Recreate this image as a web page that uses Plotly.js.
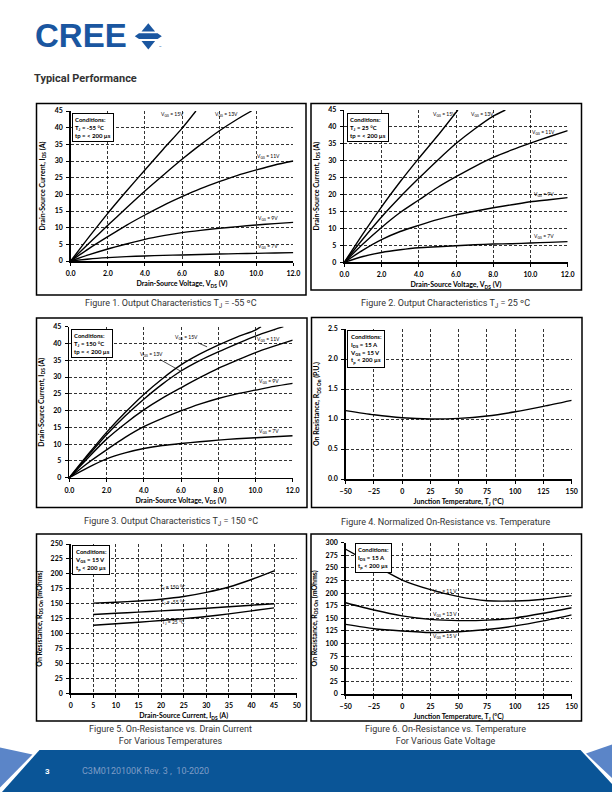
<!DOCTYPE html>
<html>
<head>
<meta charset="utf-8">
<script src="https://cdn.plot.ly/plotly-3.0.1.min.js"></script>
<style>
html,body{margin:0;padding:0;background:#fff;}
#chart{width:612px;height:792px;}
</style>
</head>
<body>
<div id="chart"></div>
<script>
// ---------- DATA ----------
// Figure 1: Tj = -55 C
const f1_vgs15_x = [0,1,2,3,4,5,6,6.75];
const f1_vgs15_y = [0,7.3,14.3,20.9,27.3,33.6,39.8,45];
const f1_vgs13_x = [0,1,2,3,4,5,6,7,8,9,9.75];
const f1_vgs13_y = [0,5.4,10.7,15.9,21,25.8,30.5,34.9,39,42.6,45];
const f1_vds = [0,1,2,3,4,5,6,7,8,9,10,11,12];
const f1_vgs11_y = [0,3.8,7.3,10.7,13.8,16.7,19.3,21.7,23.8,25.7,27.3,28.8,30];
const f1_vgs9_y  = [0,1.9,3.6,5.1,6.5,7.6,8.5,9.2,9.8,10.3,10.8,11.2,11.6];
const f1_vgs7_y  = [0,0.6,1.0,1.3,1.5,1.7,1.8,1.95,2.1,2.2,2.3,2.4,2.5];

// Figure 2: Tj = 25 C
const f2_vgs15_x = [0,1,2,3,4,5,6.1];
const f2_vgs15_y = [0,8.4,16.4,23.8,30.7,37.3,45];
const f2_vgs13_x = [0,1,2,3,4,5,6,7,8,8.65];
const f2_vgs13_y = [0,6.9,13.4,19.3,24.8,30.1,35.1,39.4,43.2,45];
const f2_vds = [0,1,2,3,4,5,6,7,8,9,10,11,12];
const f2_vgs11_y = [0,5.4,10.3,14.7,18.4,22.1,25.3,28.3,31,33.2,35.2,37.1,38.9];
const f2_vgs9_y  = [0,3.6,6.7,9.1,10.9,12.6,14,15.1,16.1,17,17.9,18.5,19.1];
const f2_vgs7_y  = [0,1.7,2.9,3.7,4.3,4.6,4.9,5.2,5.4,5.5,5.7,5.9,6.1];

// Figure 3: Tj = 150 C
const f3_vgs15_x = [0,1,2,3,4,5,6,7,8,9,10,10.3];
const f3_vgs15_y = [0,6.9,13.5,19.4,24.8,29.5,33.6,36.8,39.5,41.9,44,45];
const f3_vgs13_x = [0,1,2,3,4,5,6,7,8,9,10,11,11.5];
const f3_vgs13_y = [0,6.5,12.8,18.4,23.4,27.9,31.8,34.9,37.5,39.9,42.2,44.1,45];
const f3_vds = [0,1,2,3,4,5,6,7,8,9,10,11,12];
const f3_vgs11_y = [0,5.9,11.5,16.1,20.2,23.7,26.8,29.8,32.6,35,37.3,39.2,41];
const f3_vgs9_y  = [0,4.4,8.3,12,15.2,17.7,19.9,21.9,23.6,25,26.1,27.2,28.1];
const f3_vgs7_y  = [0,3,5.6,7.4,8.7,9.6,10.2,10.7,11.2,11.6,11.9,12.2,12.5];

// Figure 4: normalized on-resistance
const f4_tj  = [-50,-25,0,25,50,75,100,125,150];
const f4_rds = [1.14,1.07,1.02,1.0,1.01,1.05,1.12,1.21,1.31];

// Figure 5: on-resistance vs drain current
const f5_ids   = [5,10,15,20,25,30,35,40,45];
const f5_tj150 = [151,152.5,154.5,157.5,162,169,178,190.5,205];
const f5_tjm55 = [132,134,136,138,140,142.5,145,147.5,150];
const f5_tj25  = [114,116.5,119,122,125,128.5,133,138,143];

// Figure 6: on-resistance vs temperature
const f6_tj    = [-50,-25,0,25,50,75,100,125,150];
const f6_vgs11 = [287,256,226,207,193,185,184.5,188,195];
const f6_vgs13 = [181,166.5,155,148,145.5,146.5,151,160,171];
const f6_vgs15 = [138,129.5,125,122,123.5,128,135,145,157];

// ---------- LAYOUT HELPERS ----------
const W = 612, H = 792;
const px = v => v / W;
const py = v => 1 - v / H;
const dX = (a, b) => [a / W, b / W];
const dY = (t, b) => [1 - b / H, 1 - t / H];
const CF = 'Lato, "Open Sans", sans-serif';
const CAPF = '"Liberation Sans Narrow", Roboto, sans-serif';

function axis(domain, anchor, range, dtick, fmt, title, standoff) {
  return {
    domain: domain, anchor: anchor, range: range, dtick: dtick, tick0: range[0],
    tickformat: fmt, showline: true, linecolor: 'black', linewidth: 1.5,
    ticks: 'outside', ticklen: 3, tickwidth: 1, tickcolor: 'black', ticklabelstandoff: 2,
    showgrid: true, gridcolor: 'black', gridwidth: 0.8, griddash: '3px,2px',
    zeroline: false, mirror: false, fixedrange: true,
    tickfont: {family: CF, size: 7, color: 'black', weight: 700},
    title: {text: title, standoff: standoff, font: {family: CF, size: 7, color: 'black', weight: 700}}
  };
}

const LN = {color: 'black', width: 1.4, shape: 'spline', smoothing: 0.7};
function tr(x, y, n) {
  return {x: x, y: y, xaxis: 'x' + (n > 1 ? n : ''), yaxis: 'y' + (n > 1 ? n : ''),
    mode: 'lines', line: LN, hoverinfo: 'skip', showlegend: false};
}

const data = [
  tr(f1_vgs15_x, f1_vgs15_y, 1), tr(f1_vgs13_x, f1_vgs13_y, 1), tr(f1_vds, f1_vgs11_y, 1), tr(f1_vds, f1_vgs9_y, 1), tr(f1_vds, f1_vgs7_y, 1),
  tr(f2_vgs15_x, f2_vgs15_y, 2), tr(f2_vgs13_x, f2_vgs13_y, 2), tr(f2_vds, f2_vgs11_y, 2), tr(f2_vds, f2_vgs9_y, 2), tr(f2_vds, f2_vgs7_y, 2),
  tr(f3_vgs15_x, f3_vgs15_y, 3), tr(f3_vgs13_x, f3_vgs13_y, 3), tr(f3_vds, f3_vgs11_y, 3), tr(f3_vds, f3_vgs9_y, 3), tr(f3_vds, f3_vgs7_y, 3),
  tr(f4_tj, f4_rds, 4),
  tr(f5_ids, f5_tj150, 5), tr(f5_ids, f5_tjm55, 5), tr(f5_ids, f5_tj25, 5),
  tr(f6_tj, f6_vgs11, 6), tr(f6_tj, f6_vgs13, 6), tr(f6_tj, f6_vgs15, 6)
];

const vdsT = 'Drain-Source Voltage, V<sub>DS</sub> (V)';
const idsT = 'Drain-Source Current, I<sub>DS</sub> (A)';
const tjT = 'Junction Temperature, T<sub>J</sub> (°C)';
const ronT = 'On Resistance, R<sub>DS On</sub> (mOhms)';

const layout = {
  width: W, height: H, margin: {l: 0, r: 0, t: 0, b: 0},
  paper_bgcolor: 'white', plot_bgcolor: 'white', showlegend: false,
  xaxis:  axis(dX(70.7, 293.3), 'y',  [0, 12], 2, '.1f', vdsT, 5),
  yaxis:  axis(dY(111, 261),    'x',  [0, 45], 5, 'd', idsT, 8),
  xaxis2: axis(dX(344.3, 567.7), 'y2', [0, 12], 2, '.1f', vdsT, 5),
  yaxis2: axis(dY(110, 262.3),   'x2', [0, 45], 5, 'd', idsT, 8),
  xaxis3: axis(dX(69.3, 292.7), 'y3', [0, 12], 2, '.1f', vdsT, 5),
  yaxis3: axis(dY(326.7, 477.7), 'x3', [0, 45], 5, 'd', idsT, 8),
  xaxis4: axis(dX(345.7, 571.7), 'y4', [-50, 150], 25, 'd', tjT, 5),
  yaxis4: axis(dY(329, 479),     'x4', [0, 2.5], 0.5, '.1f', 'On Resistance, R<sub>DS On</sub> (P.U.)', 7),
  xaxis5: axis(dX(70.7, 296.7), 'y5', [0, 50], 5, 'd', idsT, 5),
  yaxis5: axis(dY(544, 693.3),  'x5', [0, 250], 25, 'd', ronT, 7),
  xaxis6: axis(dX(345.7, 571.7), 'y6', [-50, 150], 25, 'd', tjT, 5),
  yaxis6: axis(dY(542.7, 694),   'x6', [0, 300], 25, 'd', ronT, 7),
  shapes: [],
  annotations: []
};

// chart frames
const frames = [[36.5, 103.5, 306, 295], [311, 103.5, 581.5, 290], [36.5, 318, 307, 507.5],
                [311.5, 317.5, 582, 507.5], [36.5, 534, 306.5, 721], [311, 534, 581.5, 721]];
frames.forEach(f => layout.shapes.push({type: 'rect', xref: 'paper', yref: 'paper',
  x0: px(f[0]), x1: px(f[2]), y0: py(f[3]), y1: py(f[1]), line: {color: 'black', width: 1.5}}));

function poly(pts) {
  return 'M' + pts.map(p => px(p[0]).toFixed(5) + ',' + py(p[1]).toFixed(5)).join(' L') + ' Z';
}
function pathShape(pts, color) {
  return {type: 'path', xref: 'paper', yref: 'paper', path: poly(pts), fillcolor: color, line: {width: 0}, layer: 'above'};
}
// footer
layout.shapes.push(pathShape([[39.5, 750], [580.5, 750], [612, 784], [612, 792], [2, 792]], '#0a5597'));
layout.shapes.push(pathShape([[0, 747.5], [32.5, 754.5], [0, 787.5]], '#5b85c8'));
layout.shapes.push(pathShape([[586, 753.5], [612, 744.5], [612, 778]], '#5b85c8'));
// logo symbol
const LOGO = '#1a56a0';
layout.shapes.push(pathShape([[141.5, 31.6], [148.3, 23.2], [155.1, 31.6]], LOGO));
layout.shapes.push(pathShape([[134.8, 36.2], [139, 33.3], [157.6, 33.3], [161.8, 36.2], [157.6, 39.1], [139, 39.1]], LOGO));
layout.shapes.push(pathShape([[141.5, 41], [155.1, 41], [148.3, 49.4]], LOGO));

const A = layout.annotations;
function txt(text, x, y, opts) {
  A.push(Object.assign({text: text, x: px(x), y: py(y), xref: 'paper', yref: 'paper', showarrow: false,
    xanchor: 'center', yanchor: 'middle'}, opts));
}
// header
txt('CREE', 33, 36, {xanchor: 'left', font: {family: '"Liberation Sans", Arial, sans-serif', size: 33, color: LOGO, weight: 900}});
txt('™', 157.5, 47.5, {xanchor: 'left', font: {family: 'Roboto', size: 4, color: LOGO}});
txt('Typical Performance', 32, 79, {xanchor: 'left', font: {family: 'Roboto, sans-serif', size: 11, color: '#333', weight: 700}});
// footer text
txt('3', 42.5, 771, {xanchor: 'left', font: {family: 'Roboto, sans-serif', size: 8, color: 'white', weight: 700}});
txt('C3M0120100K Rev. 3 ,  10-2020', 80, 771, {xanchor: 'left', font: {family: CAPF, size: 9, color: '#7d9cc6'}});
// captions
const capFont = {family: CAPF, size: 9, color: '#333'};
txt('Figure 1. Output Characteristics T<sub>J</sub> = -55 ºC', 171, 304, {font: capFont});
txt('Figure 2. Output Characteristics T<sub>J</sub> = 25 ºC', 445, 304, {font: capFont});
txt('Figure 3. Output Characteristics T<sub>J</sub> = 150 ºC', 171, 522, {font: capFont});
txt('Figure 4. Normalized On-Resistance vs. Temperature', 446, 522, {font: capFont});
txt('Figure 5. On-Resistance vs. Drain Current<br>For Various Temperatures', 170, 735, {font: capFont});
txt('Figure 6. On-Resistance vs. Temperature<br>For Various Gate Voltage', 445, 735, {font: capFont});

// condition boxes
function cond(text, x, y) {
  A.push({text: text, x: px(x), y: py(y), xref: 'paper', yref: 'paper', showarrow: false,
    xanchor: 'left', yanchor: 'top', align: 'left', bordercolor: 'black', borderwidth: 1, borderpad: 2,
    bgcolor: 'white', font: {family: CF, size: 6, color: 'black', weight: 700}});
}
cond('Conditions:<br>T<sub>J</sub> = -55 °C<br>tp = < 200 µs', 71.7, 112.7);
cond('Conditions:<br>T<sub>J</sub> = 25 °C<br>tp = < 200 µs', 346.5, 112.5);
cond('Conditions:<br>T<sub>J</sub> = 150 °C<br>tp = < 200 µs', 71, 329);
cond('Conditions:<br>I<sub>DS</sub> = 15 A<br>V<sub>GS</sub> = 15 V<br>t<sub>p</sub> < 200 µs', 347, 330);
cond('Conditions:<br>V<sub>GS</sub> = 15 V<br>t<sub>p</sub> < 200 µs', 72, 544.5);
cond('Conditions:<br>I<sub>DS</sub> = 15 A<br>t<sub>p</sub> < 200 µs', 355, 543);

// curve labels (data coordinates)
const lf = {family: CF, size: 5, color: 'black'};
function lab(text, x, y, n, extra) {
  const s = n > 1 ? n : '';
  A.push(Object.assign({text: text, x: x, y: y, xref: 'x' + s, yref: 'y' + s, showarrow: false, font: lf}, extra || {}));
}
lab('V<sub>GS</sub> = 15V', 5.5, 43.8, 1);
lab('V<sub>GS</sub> = 13V', 8.4, 43.8, 1);
lab('V<sub>GS</sub> = 11V', 10.65, 31.3, 1);
lab('V<sub>GS</sub> = 9V', 10.65, 12.8, 1);
lab('V<sub>GS</sub> = 7V', 10.65, 4.3, 1);

lab('V<sub>GS</sub> = 15V', 5.4, 43.8, 2);
lab('V<sub>GS</sub> = 13V', 7.4, 43.8, 2);
lab('V<sub>GS</sub> = 11V', 10.7, 38.4, 2);
lab('V<sub>GS</sub> = 9V', 10.7, 19.9, 2);
lab('V<sub>GS</sub> = 7V', 10.7, 7.6, 2);

lab('V<sub>GS</sub> = 15V', 7.4, 39.0, 3, {showarrow: true, arrowhead: 0, arrowwidth: 0.7, arrowcolor: 'black', axref: 'x3', ayref: 'y3', ax: 6.3, ay: 41.7});
lab('V<sub>GS</sub> = 13V', 6.0, 31.7, 3, {showarrow: true, arrowhead: 0, arrowwidth: 0.7, arrowcolor: 'black', axref: 'x3', ayref: 'y3', ax: 4.4, ay: 36.7});
lab('V<sub>GS</sub> = 11V', 10.7, 41.3, 3);
lab('V<sub>GS</sub> = 9V', 10.7, 28.8, 3);
lab('V<sub>GS</sub> = 7V', 10.7, 13.9, 3);

lab('T<sub>J</sub> = 150 °C', 22.7, 177, 5);
lab('T<sub>J</sub> = -55 °C', 22.7, 152, 5);
lab('T<sub>J</sub> = 25 °C', 22.7, 118, 5);

lab('V<sub>GS</sub> = 11 V', 38, 203, 6);
lab('V<sub>GS</sub> = 13 V', 38, 158, 6);
lab('V<sub>GS</sub> = 15 V', 38, 114, 6);

Plotly.newPlot('chart', data, layout, {staticPlot: true, displayModeBar: false});
</script>
</body>
</html>
